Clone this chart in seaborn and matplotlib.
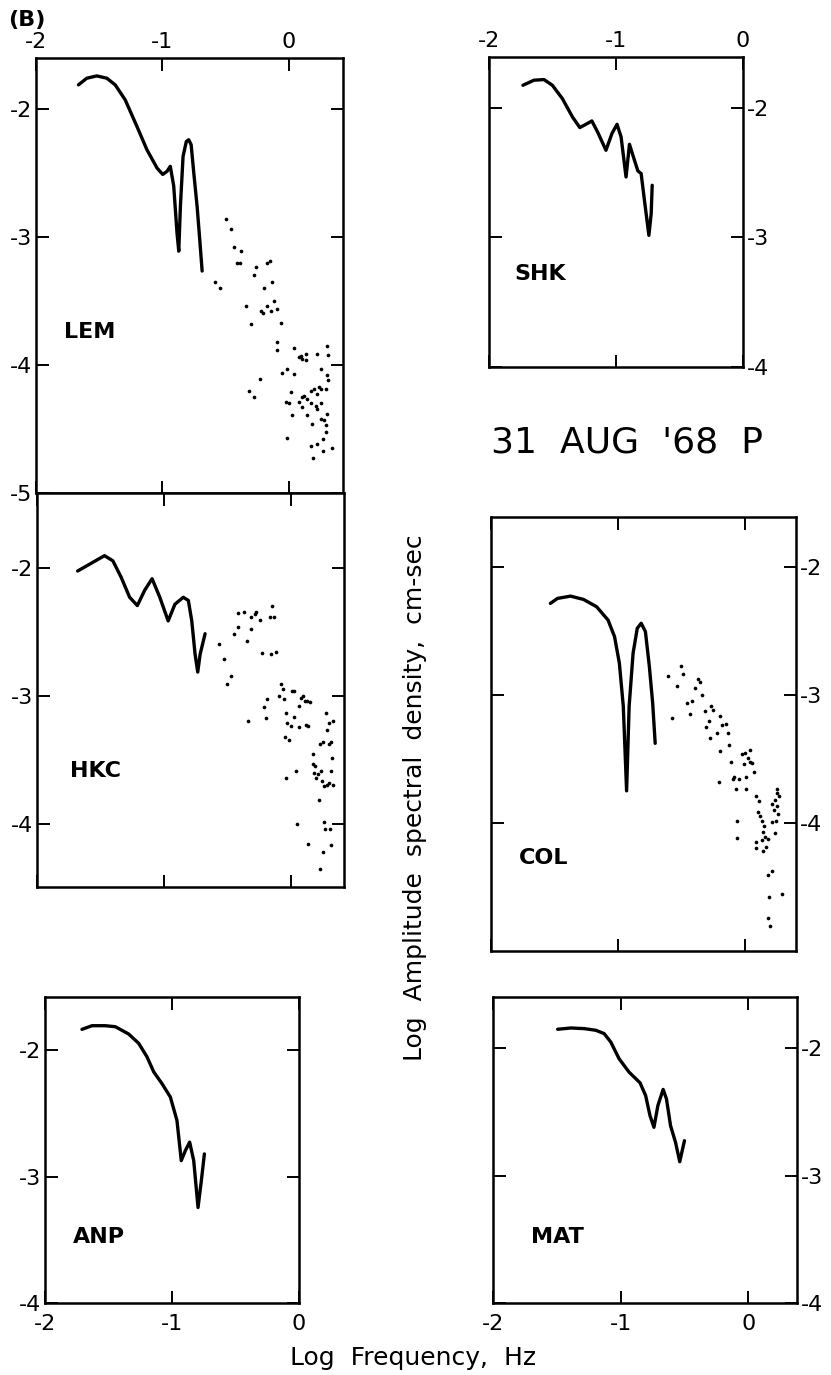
#!/usr/bin/env python3
# -*- coding: utf-8 -*-

import pandas as pd
import seaborn as sns
import matplotlib
matplotlib.use("Agg")
import matplotlib.pyplot as plt

# ---- data (log10 frequency, log10 amplitude) ----
lem_curve_x = [-1.664, -1.598, -1.519, -1.439, -1.373, -1.294, -1.201, -1.122, -1.042, -0.997,
               -0.963, -0.937, -0.910, -0.884, -0.870, -0.857, -0.836, -0.810, -0.791, -0.772,
               -0.751, -0.725, -0.704, -0.685]
lem_curve_y = [-1.81, -1.758, -1.74, -1.758, -1.81, -1.927, -2.135, -2.317, -2.46, -2.51,
               -2.486, -2.447, -2.60, -2.966, -3.11, -2.758, -2.369, -2.252, -2.239, -2.278,
               -2.499, -2.758, -3.018, -3.265]
lem_dots_x = [-0.50, -0.455, -0.434, -0.376, -0.407, -0.386, -0.262, -0.169, -0.148, -0.275,
              -0.58, -0.545, -0.196, -0.130, -0.341, -0.222, -0.201, -0.169, -0.116, -0.143,
              -0.090, -0.302, -0.063, -0.090, -0.095, 0.042, 0.082, 0.095, 0.108, 0.135,
              0.135, 0.228, 0.307, 0.315, -0.050, -0.016, 0.042, 0.254, 0.307, 0.312,
              -0.228, -0.315, -0.275, 0.016, -0.024, 0.003, 0.029, 0.082, 0.108, 0.122,
              0.148, 0.175, 0.201, 0.222, 0.241, 0.254, 0.108, 0.148, 0.175, 0.214,
              0.228, 0.259, 0.294, 0.302, 0.188, 0.254, 0.280, 0.294, 0.294, -0.016,
              0.175, 0.222, 0.275, 0.339, 0.275, 0.19]
lem_dots_y = [-2.86, -2.94, -3.08, -3.11, -3.20, -3.205, -3.23, -3.20, -3.19, -3.30,
              -3.35, -3.40, -3.395, -3.35, -3.54, -3.58, -3.59, -3.54, -3.50, -3.58,
              -3.56, -3.68, -3.675, -3.82, -3.88, -3.87, -3.94, -3.93, -3.95, -3.91,
              -3.96, -3.91, -3.85, -3.92, -4.06, -4.03, -4.07, -4.03, -4.08, -4.12,
              -4.11, -4.20, -4.25, -4.21, -4.29, -4.30, -4.39, -4.29, -4.25, -4.24,
              -4.265, -4.20, -4.19, -4.23, -4.17, -4.19, -4.33, -4.39, -4.30, -4.32,
              -4.34, -4.30, -4.19, -4.38, -4.46, -4.42, -4.43, -4.47, -4.525, -4.57,
              -4.63, -4.62, -4.675, -4.65, -4.58, -4.73]

hkc_curve_x = [-1.68, -1.574, -1.468, -1.402, -1.336, -1.270, -1.209, -1.151, -1.093, -1.032,
               -0.966, -0.913, -0.847, -0.807, -0.780, -0.754, -0.733, -0.714, -0.675]
hkc_curve_y = [-2.02, -1.96, -1.90, -1.94, -2.07, -2.225, -2.29, -2.17, -2.08, -2.225,
               -2.41, -2.28, -2.225, -2.25, -2.41, -2.67, -2.81, -2.67, -2.51]
hkc_dots_x = [-0.569, -0.529, -0.503, -0.471, -0.444, -0.418, -0.415, -0.370, -0.344, -0.317,
              -0.310, -0.283, -0.272, -0.246, -0.230, -0.159, -0.119, -0.167, -0.132, -0.146,
              -0.336, -0.212, -0.198, -0.185, -0.093, -0.079, -0.061, -0.053, -0.034, -0.026,
              -0.045, -0.013, 0.000, 0.026, 0.013, 0.026, 0.066, 0.066, 0.079, 0.093,
              0.114, 0.119, 0.140, 0.132, 0.151, 0.172, 0.177, 0.193, 0.185, 0.198,
              0.212, 0.238, 0.230, 0.265, 0.283, 0.304, 0.331, 0.317, 0.325, 0.246,
              0.299, 0.317, 0.251, 0.278, 0.283, 0.299, 0.331, 0.220, 0.045, -0.034,
              0.053, 0.140, 0.251, 0.265, 0.272, 0.310, 0.317, 0.230]
hkc_dots_y = [-2.59, -2.71, -2.905, -2.84, -2.51, -2.46, -2.35, -2.34, -2.565, -2.47,
              -2.376, -2.356, -2.34, -2.40, -2.66, -2.67, -2.65, -2.38, -2.38, -2.29,
              -3.19, -3.08, -3.17, -3.02, -3.00, -2.905, -2.94, -3.02, -3.13, -3.205,
              -3.32, -3.34, -3.23, -3.16, -2.96, -2.957, -3.075, -3.24, -3.01, -3.00,
              -3.035, -3.22, -3.23, -3.035, -3.04, -3.45, -3.53, -3.545, -3.60, -3.64,
              -3.61, -3.58, -3.375, -3.70, -3.69, -3.675, -3.69, -3.58, -3.48, -3.66,
              -3.375, -3.36, -3.36, -3.13, -3.26, -3.205, -3.19, -3.81, -3.58, -3.64,
              -4.00, -4.15, -4.22, -3.98, -4.04, -4.04, -4.16, -4.35]

anp_curve_x = [-1.709, -1.630, -1.525, -1.446, -1.341, -1.262, -1.197, -1.144, -1.079, -1.013,
               -0.961, -0.927, -0.895, -0.861, -0.829, -0.795, -0.769, -0.745]
anp_curve_y = [-1.836, -1.807, -1.807, -1.815, -1.873, -1.947, -2.053, -2.172, -2.265, -2.371,
               -2.556, -2.874, -2.795, -2.728, -2.874, -3.245, -3.033, -2.821]

shk_curve_x = [-1.733, -1.646, -1.567, -1.501, -1.422, -1.343, -1.285, -1.237, -1.190, -1.145,
               -1.079, -1.032, -0.992, -0.960, -0.921, -0.894, -0.863, -0.828, -0.802, -0.776,
               -0.741, -0.723, -0.715]
shk_curve_y = [-1.828, -1.789, -1.784, -1.828, -1.931, -2.072, -2.154, -2.129, -2.103, -2.188,
               -2.329, -2.20, -2.129, -2.226, -2.535, -2.283, -2.380, -2.488, -2.509, -2.715,
               -2.985, -2.818, -2.599]

col_curve_x = [-1.533, -1.477, -1.374, -1.272, -1.169, -1.079, -1.028, -0.990, -0.959, -0.933,
               -0.913, -0.882, -0.849, -0.818, -0.785, -0.754, -0.728, -0.708]
col_curve_y = [-2.285, -2.246, -2.228, -2.254, -2.311, -2.415, -2.544, -2.751, -3.088, -3.749,
               -3.088, -2.674, -2.479, -2.440, -2.505, -2.777, -3.062, -3.378]
col_dots_x = [-0.605, -0.508, -0.490, -0.533, -0.574, -0.456, -0.421, -0.431, -0.395, -0.374,
              -0.354, -0.336, -0.318, -0.267, -0.251, -0.285, -0.310, -0.277, -0.221, -0.195,
              -0.182, -0.149, -0.138, -0.200, -0.131, -0.113, -0.028, -0.003, 0.036, 0.023,
              0.036, 0.056, -0.010, 0.067, -0.087, -0.097, -0.046, 0.005, -0.208, -0.072,
              0.005, 0.082, 0.108, 0.100, 0.118, 0.133, 0.151, 0.144, 0.159, 0.177,
              0.082, 0.133, 0.164, 0.144, 0.082, 0.215, 0.228, 0.254, 0.254, 0.236,
              0.254, 0.262, 0.241, 0.210, 0.236, 0.267, -0.062, -0.062, 0.177, 0.215,
              0.190, 0.292, 0.177, 0.197]
col_dots_y = [-2.855, -2.772, -2.834, -2.933, -3.179, -3.062, -3.049, -3.145, -2.946, -2.876,
              -2.902, -3.003, -3.127, -3.088, -3.119, -3.205, -3.249, -3.334, -3.301, -3.161,
              -3.231, -3.223, -3.295, -3.438, -3.394, -3.523, -3.459, -3.451, -3.430, -3.490,
              -3.523, -3.528, -3.541, -3.601, -3.637, -3.653, -3.653, -3.637, -3.679, -3.731,
              -3.736, -3.793, -3.826, -3.912, -3.943, -3.982, -4.026, -4.067, -4.111, -4.124,
              -4.150, -4.135, -4.189, -4.215, -4.197, -3.852, -3.896, -3.736, -3.762, -3.819,
              -3.865, -3.930, -3.982, -3.995, -4.078, -3.788, -3.982, -4.119, -4.404, -4.378,
              -4.578, -4.552, -4.746, -4.803]

mat_curve_x = [-1.494, -1.390, -1.286, -1.195, -1.130, -1.078, -1.013, -0.935, -0.849, -0.805,
               -0.771, -0.740, -0.709, -0.668, -0.642, -0.610, -0.571, -0.538, -0.519, -0.501]
mat_curve_y = [-1.853, -1.843, -1.848, -1.861, -1.887, -1.953, -2.084, -2.189, -2.273, -2.373,
               -2.530, -2.622, -2.451, -2.325, -2.399, -2.609, -2.740, -2.892, -2.806, -2.727]

tick_labels = {-5: "-5", -4: "-4", -3: "-3", -2: "-2", -1: "-1", 0: "0"}

W, H = 831, 1375


def add_panel(fig, box, xlim, ylim, yticks, labels, station, station_xy,
              curve_x, curve_y, dots_x=None, dots_y=None):
    l, t, r, b = box
    ax = fig.add_axes([l / W, 1 - b / H, (r - l) / W, (b - t) / H])

    curve = pd.DataFrame({"f": curve_x, "a": curve_y})
    sns.lineplot(data=curve, x="f", y="a", ax=ax, color="black", linewidth=2.4,
                 sort=False, estimator=None)
    if dots_x is not None:
        dots = pd.DataFrame({"f": dots_x, "a": dots_y})
        sns.scatterplot(data=dots, x="f", y="a", ax=ax, color="black", s=7,
                        linewidth=0)

    ax.set_xlim(*xlim)
    ax.set_ylim(*ylim)
    xticks = [v for v in (-2, -1, 0) if xlim[0] <= v <= xlim[1]]
    ax.set_xticks(xticks)
    ax.set_xticklabels([tick_labels[v] for v in xticks])
    ax.set_yticks(yticks)
    ax.set_yticklabels([tick_labels[v] for v in yticks])
    ax.set_xlabel("")
    ax.set_ylabel("")

    ax.tick_params(direction="in", length=9, width=1.4, top=True, bottom=True,
                   left=True, right=True, labelsize=16, colors="black",
                   labeltop="top" in labels, labelbottom="bottom" in labels,
                   labelleft="left" in labels, labelright="right" in labels)
    ax.tick_params(axis="y", pad=3)
    ax.tick_params(axis="x", which="major", pad=4)
    if "bottom" in labels:
        ax.xaxis.set_tick_params(pad=8)
    for s in ax.spines.values():
        s.set_linewidth(1.8)
        s.set_color("black")

    ax.text(station_xy[0], station_xy[1], station, fontsize=16, fontweight="bold",
            color="black", ha="left", va="center")
    return ax


sns.set_theme(style="ticks")
plt.rcParams["font.family"] = ["DejaVu Sans"]
plt.rcParams["text.color"] = "black"
plt.rcParams["xtick.color"] = "black"
plt.rcParams["ytick.color"] = "black"

fig = plt.figure(figsize=(W / 100, H / 100), dpi=100)

add_panel(fig, (36, 58, 343, 493), (-2, 0.43), (-5, -1.6), [-5, -4, -3, -2],
          ("top", "left"), "LEM", (-1.78, -3.74),
          lem_curve_x, lem_curve_y, lem_dots_x, lem_dots_y)
add_panel(fig, (37, 493, 344, 887), (-2, 0.42), (-4.49, -1.41), [-4, -3, -2],
          ("left",), "HKC", (-1.74, -3.58),
          hkc_curve_x, hkc_curve_y, hkc_dots_x, hkc_dots_y)
add_panel(fig, (45, 997, 299, 1303), (-2, 0), (-4, -1.58), [-4, -3, -2],
          ("bottom", "left"), "ANP", (-1.78, -3.48),
          anp_curve_x, anp_curve_y)
add_panel(fig, (489, 57, 743, 367), (-2, 0), (-4, -1.61), [-4, -3, -2],
          ("top", "right"), "SHK", (-1.80, -3.28),
          shk_curve_x, shk_curve_y)
add_panel(fig, (491, 517, 796, 951), (-2, 0.40), (-5, -1.61), [-4, -3, -2],
          ("right",), "COL", (-1.78, -4.27),
          col_curve_x, col_curve_y, col_dots_x, col_dots_y)
add_panel(fig, (493, 997, 797, 1303), (-2, 0.38), (-4, -1.6), [-4, -3, -2],
          ("bottom", "right"), "MAT", (-1.70, -3.48),
          mat_curve_x, mat_curve_y)

fig.text(8 / W, 1 - 20 / H, "(B)", fontsize=16, fontweight="bold", ha="left", va="center")
fig.text(627 / W, 1 - 443 / H, "31  AUG  '68  P", fontsize=26, ha="center", va="center")
fig.text(413 / W, 1 - 1358 / H, "Log  Frequency,  Hz", fontsize=18, ha="center", va="center")
fig.text(415 / W, 1 - 798 / H, "Log  Amplitude  spectral  density,  cm-sec", fontsize=18,
         rotation=90, ha="center", va="center")

fig.savefig("out.png", dpi=100)
